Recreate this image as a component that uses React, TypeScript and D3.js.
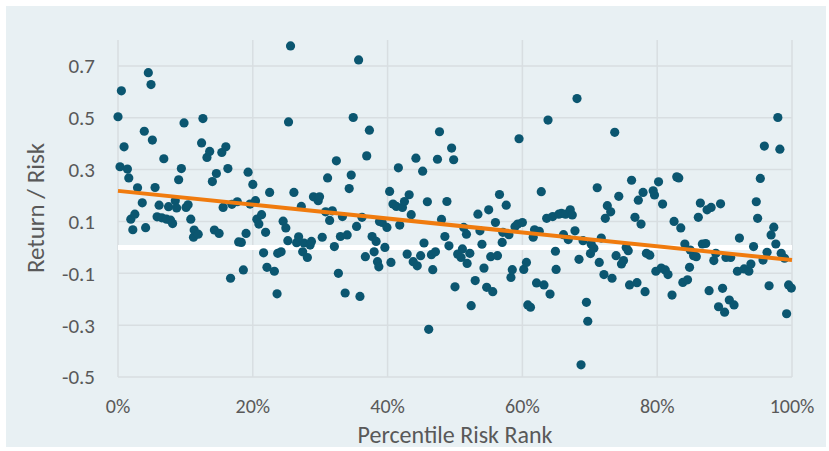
import * as d3 from "d3";

// percentile risk rank (%)
const riskRank: number[] = [
  0.0, 0.3, 0.5, 0.9, 1.4, 1.6, 1.9, 2.2, 2.5, 2.9, 3.6, 3.9, 4.1, 4.5, 4.9, 5.1, 5.5, 5.8, 6.1, 6.5,
  6.8, 7.2, 7.5, 7.8, 8.1, 8.5, 8.7, 9.0, 9.4, 9.8, 10.1, 10.4, 10.8, 11.2, 11.3, 11.9, 12.4, 12.6,
  13.2, 13.6, 14.0, 14.3, 14.6, 15.0, 15.4, 15.6, 16.0, 16.3, 16.7, 16.9, 17.7, 17.9, 18.3, 18.6,
  19.0, 19.3, 19.6, 20.0, 20.4, 20.6, 20.9, 21.3, 21.6, 21.9, 22.1, 22.5, 23.2, 23.6, 23.7, 24.2,
  24.5, 24.9, 25.2, 25.3, 25.6,
  26.1, 26.5, 26.8, 27.2, 27.4, 27.6, 28.1, 28.5, 28.7, 29.0, 29.7, 29.9, 30.3, 30.8, 31.1, 31.4,
  31.8, 32.1, 32.4, 32.7, 33.0, 33.3, 33.7, 34.0, 34.3, 34.6, 34.9, 35.4, 35.7, 35.9, 36.2, 36.7,
  36.9, 37.3, 37.7, 38.0, 38.3, 38.5, 38.7, 38.8,
  39.2, 39.6, 39.9, 40.3, 40.5, 40.8, 41.3, 41.6, 41.8, 42.2, 42.5, 42.9, 43.2, 43.5, 43.8, 44.2,
  44.4, 44.9, 45.2, 45.4, 45.9, 46.1, 46.5, 46.7, 47.1, 47.4, 47.7, 48.0, 48.5, 48.8, 49.1, 49.5,
  49.8, 50.0, 50.4, 50.9, 51.1, 51.3, 51.7, 51.8, 52.2, 52.4,
  53.0, 53.4, 53.7, 54.0, 54.3, 54.7, 55.0, 55.3, 55.6, 56.0, 56.3, 56.6, 57.0, 57.1, 57.6, 58.0,
  58.3, 58.5, 58.9, 59.3, 59.5, 60.0, 60.2, 60.6, 60.8, 61.2, 61.6, 61.8, 62.1, 62.5, 62.8, 63.2,
  63.6, 63.8, 64.1, 64.5, 64.9, 65.0, 65.4,
  65.8, 66.1, 66.4, 66.8, 67.1, 67.4, 67.8, 68.1, 68.4, 68.7, 69.0, 69.5, 69.7, 70.1, 70.2, 70.6,
  71.1, 71.4, 71.7, 72.1, 72.3, 72.6, 73.1, 73.3, 73.7, 73.9, 74.3, 74.7, 75.0, 75.4, 75.7, 75.9,
  76.2, 76.7, 77.0, 77.2, 77.6, 77.9, 78.2, 78.4, 78.9,
  79.4, 79.6, 79.8, 80.2, 80.6, 80.8, 81.2, 81.6, 82.2, 82.5, 82.9, 83.2, 83.5, 83.8, 84.1, 84.5,
  84.8, 84.9, 85.4, 85.8, 86.1, 86.4, 86.7, 87.2, 87.4, 87.7, 88.0, 88.4, 88.7, 89.1, 89.4, 89.7,
  90.0, 90.2, 90.7, 90.9, 91.4, 91.9, 92.2,
  92.9, 93.6, 93.9, 94.3, 94.7, 94.9, 95.3, 95.7, 95.9, 96.3, 96.6, 96.9, 97.3, 97.6, 97.9, 98.2,
  98.4, 98.9, 99.2, 99.5, 99.9,
];

// return / risk for each point, same order
const returnRisk: number[] = [
  0.504, 0.311, 0.604, 0.388, 0.302, 0.268, 0.109, 0.068, 0.128, 0.23, 0.172, 0.448, 0.076, 0.674, 0.628, 0.414, 0.231, 0.118, 0.163, 0.114,
  0.342, 0.109, 0.157, 0.105, 0.092, 0.18, 0.152, 0.261, 0.304, 0.48, 0.154, 0.164, 0.109, 0.039, 0.067, 0.051, 0.403, 0.497,
  0.347, 0.37, 0.254, 0.067, 0.285, 0.054, 0.366, 0.154, 0.388, 0.304, -0.119, 0.166, 0.176, 0.021, 0.019, -0.087,
  0.054, 0.29, 0.167, 0.243, 0.18, 0.109, 0.09, 0.126, -0.021, 0.058, -0.077, 0.212, -0.092, -0.179, -0.023, -0.017,
  0.101, 0.075, 0.026, 0.484, 0.777,
  0.212, 0.018, 0.041, 0.158, -0.017, 0.017, -0.039, 0.009, 0.023, 0.195, 0.18, 0.195, 0.039, 0.137, 0.268, 0.104,
  0.141, 0.003, 0.334, -0.1, 0.042, 0.119, -0.176, 0.048, 0.227, 0.279, 0.501, 0.081, 0.723, -0.189, 0.116, -0.036,
  0.353, 0.452, 0.042, -0.017, 0.023, -0.055, -0.075, 0.1,
  0.096, 0.0, 0.077, 0.216, -0.058, 0.167, 0.158, 0.307, 0.086, 0.154, 0.177, -0.026, 0.203, 0.126, -0.055, 0.344,
  -0.071, -0.032, 0.294, 0.017, 0.176, -0.316, -0.028, -0.086, -0.017, 0.34, 0.446, 0.108, 0.042, 0.177, 0.006, 0.383,
  0.338, -0.152, -0.026, -0.039, -0.006, 0.077, 0.051, -0.062, -0.023, -0.225,
  -0.128, 0.128, 0.064, 0.012, -0.08, -0.154, 0.145, -0.036, -0.171, 0.096, -0.032, 0.204, 0.019, 0.058, 0.163, 0.049,
  -0.116, -0.086, 0.08, 0.09, 0.419, 0.096, -0.085, -0.058, -0.222, -0.231, 0.039, 0.068, -0.137, 0.062, 0.215, -0.145,
  0.112, 0.491, -0.18, 0.119, -0.015, -0.085, 0.128,
  0.131, 0.049, 0.128, 0.03, 0.145, 0.125, 0.064, 0.574, -0.046, -0.453, 0.026, -0.212, -0.285, -0.024, 0.013, -0.003,
  0.23, -0.058, 0.036, -0.105, 0.112, 0.161, 0.137, -0.119, 0.444, -0.032, 0.197, -0.064, -0.051, 0.0, -0.013, -0.145,
  0.259, 0.116, -0.136, 0.182, 0.09, 0.212, -0.171, -0.023, -0.03,
  0.218, 0.202, -0.092, 0.253, -0.08, 0.167, -0.087, -0.105, -0.184, 0.1, 0.272, 0.268, 0.075, -0.135, 0.013, -0.125,
  -0.077, -0.01, -0.032, -0.036, 0.116, 0.171, 0.013, 0.015, 0.145, -0.167, 0.154, -0.051, -0.023, -0.229, 0.168, -0.158,
  -0.25, -0.039, -0.203, -0.039, -0.222, -0.092, 0.036,
  -0.083, -0.092, -0.064, 0.003, 0.176, 0.112, 0.266, -0.049, 0.391, -0.019, -0.148, 0.048, 0.078, 0.013, 0.501, 0.379,
  -0.023, -0.042, -0.256, -0.145, -0.157,
];

// linear trend line ends
const trendX = [0, 100];
const trendY = [0.218, -0.049];

const xTicks = [0, 20, 40, 60, 80, 100];
const yTicks = [-0.5, -0.3, -0.1, 0.1, 0.3, 0.5, 0.7];

const W = 829;
const H = 451;
const margin = { left: 118, right: 37, top: 40, bottom: 74 };
const font = "Carlito, Lato, 'Open Sans', sans-serif";
const textColor = "#595959";
const gridColor = "#D8DEE1";

export default function App() {
  const x = d3.scaleLinear().domain([0, 100]).range([margin.left, W - margin.right]);
  const y = d3.scaleLinear().domain([-0.5, 0.8]).range([H - margin.bottom, margin.top]);

  const trend = d3
    .line<number>()
    .x((d) => x(trendX[d]))
    .y((d) => y(trendY[d]))([0, 1]) || "";

  const fmtY = (v: number) => d3.format(".1f")(v).replace("−", "-");

  return (
    <svg
      width={W}
      height={H}
      style={{ position: "absolute", left: 0, top: 0, fontFamily: font }}
    >
      <rect x={0} y={0} width={W} height={H} fill="#fff" />
      <rect x={6} y={6} width={820} height={441} fill="#E8F0F3" />

      {/* horizontal grid */}
      {yTicks.map((t) => (
        <line key={"h" + t} x1={x(0)} x2={x(100)} y1={y(t)} y2={y(t)} stroke={gridColor} strokeWidth={1.5} />
      ))}
      {/* vertical grid */}
      {xTicks.map((t) => (
        <line key={"v" + t} x1={x(t)} x2={x(t)} y1={y(0.8)} y2={y(-0.5)} stroke={gridColor} strokeWidth={1.5} />
      ))}

      {/* zero line */}
      <line x1={x(0)} x2={x(100)} y1={y(0)} y2={y(0)} stroke="#fff" strokeWidth={5} />

      {/* points */}
      {riskRank.map((r, i) => (
        <circle key={i} cx={x(r)} cy={y(returnRisk[i])} r={4.6} fill="#0B5670" />
      ))}

      <path d={trend} stroke="#F07B0E" strokeWidth={4} fill="none" />

      {/* y tick labels */}
      {yTicks.map((t) => (
        <text key={"yl" + t} x={95} y={y(t)} dy="0.35em" textAnchor="end" fontSize={21} fill={textColor}>
          {fmtY(t)}
        </text>
      ))}
      {/* x tick labels */}
      {xTicks.map((t) => (
        <text key={"xl" + t} x={x(t)} y={413} textAnchor="middle" fontSize={20} fill={textColor}>
          {t + "%"}
        </text>
      ))}

      <text x={x(50)} y={443} textAnchor="middle" fontSize={24} fill={textColor}>
        Percentile Risk Rank
      </text>
      <text
        transform="translate(44, 208) rotate(-90)"
        textAnchor="middle"
        fontSize={25}
        fill={textColor}
      >
        Return / Risk
      </text>
    </svg>
  );
}
